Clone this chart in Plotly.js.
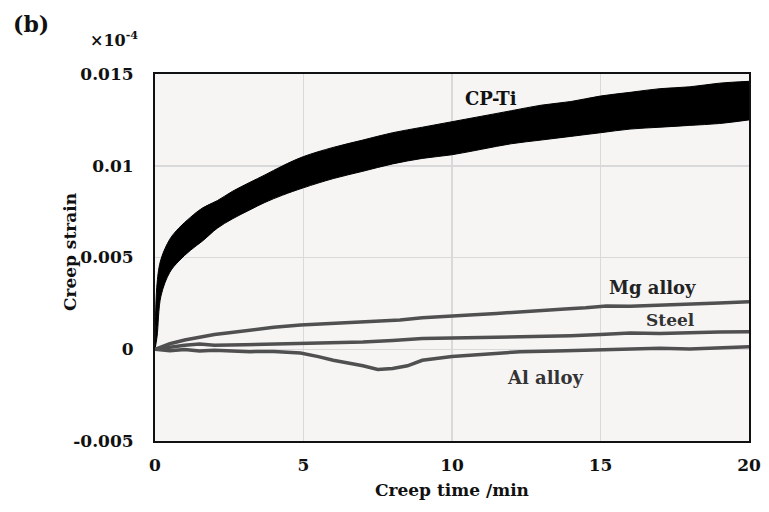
<!DOCTYPE html>
<html>
<head>
<meta charset="utf-8">
<script src="https://cdn.plot.ly/plotly-3.0.1.min.js"></script>
<style>
  html, body { margin: 0; padding: 0; background: #ffffff; }
  #chart { width: 769px; height: 512px; }
</style>
</head>
<body>
<div id="chart"></div>
<script>
// CP-Ti band (noisy signal drawn as a filled band between its lower and upper edges)
const tiTime  = [0, 0.07, 0.2, 0.5, 0.8, 1.2, 1.6, 2.1, 2.6, 3.2, 3.7, 4.3, 5, 6, 7, 8, 9, 10, 11, 12, 13, 14, 15, 16, 17, 18, 19, 20];
const tiUpper = [0, 0.0036, 0.0049, 0.0060, 0.0066, 0.0072, 0.0077, 0.0081, 0.0086, 0.0091, 0.0095, 0.0100, 0.0105, 0.0110, 0.0114, 0.0118, 0.0121, 0.0124, 0.0127, 0.0130, 0.0133, 0.0135, 0.0138, 0.0140, 0.0142, 0.0143, 0.0145, 0.0146];
const tiLower = [0, 0.0007, 0.0029, 0.0042, 0.0048, 0.0054, 0.0059, 0.0066, 0.0071, 0.0076, 0.0080, 0.0084, 0.0088, 0.0093, 0.0097, 0.0101, 0.0104, 0.0106, 0.0109, 0.0112, 0.0114, 0.0116, 0.0118, 0.0120, 0.0121, 0.0122, 0.0123, 0.0125];

const mgTime  = [0, 0.5, 1, 1.5, 2, 2.5, 3.2, 4, 4.9, 5.8, 6.6, 7.4, 8.25, 9, 9.8, 10.6, 11.5, 12.3, 13, 13.8, 14.5, 15.2, 16, 16.8, 17.4, 18.2, 19, 20];
const mgStrain= [0, 0.0003, 0.0005, 0.00067, 0.0008, 0.0009, 0.00105, 0.0012, 0.00132, 0.0014, 0.00145, 0.0015, 0.0016, 0.00172, 0.00181, 0.00186, 0.00195, 0.00205, 0.00214, 0.0022, 0.00226, 0.00236, 0.00234, 0.0024, 0.00241, 0.0025, 0.00252, 0.00259];

const stTime  = [0, 0.5, 1, 1.5, 2, 3, 4, 5, 6, 7, 8, 9, 10, 11, 12, 13, 14, 15, 16, 17, 18, 19, 20];
const stStrain= [0, 0.00012, 0.00022, 0.00028, 0.00022, 0.00024, 0.00028, 0.0003, 0.00036, 0.0004, 0.00048, 0.00058, 0.00061, 0.00064, 0.00067, 0.00068, 0.00074, 0.0008, 0.00088, 0.00086, 0.00092, 0.00094, 0.00096];

const alTime  = [0, 0.5, 1, 1.5, 2, 3.2, 4, 4.9, 5.5, 6, 6.5, 7, 7.5, 8, 8.5, 9, 10, 11, 12.3, 13.5, 14.5, 15.7, 17, 18, 19, 20];
const alStrain= [0, -0.00008, -0.00002, -0.0001, -0.00006, -0.00013, -0.00012, -0.0002, -0.0004, -0.0006, -0.00075, -0.0009, -0.0011, -0.00105, -0.0009, -0.0006, -0.0004, -0.00028, -0.00013, -0.0001, -0.00006, -0.00004, 0.00005, 0.00002, 0.0001, 0.00014];

const xTicks = [0, 5, 10, 15, 20];
const yTicks = [-0.005, 0, 0.005, 0.01, 0.015];
const yTickText = ['-0.005', '0', '0.005', '0.01', '0.015'];

const serif = 'DejaVu Serif, Liberation Serif, serif';
const lineGray = '#505050';

const traces = [
  { x: tiTime, y: tiLower, mode: 'lines', line: { color: '#000', width: 1, shape: 'spline' }, hoverinfo: 'skip', showlegend: false },
  { x: tiTime, y: tiUpper, mode: 'lines', fill: 'tonexty', fillcolor: '#000', line: { color: '#000', width: 1, shape: 'spline' }, name: 'CP-Ti', showlegend: false },
  { x: mgTime, y: mgStrain, mode: 'lines', line: { color: lineGray, width: 3.5 }, name: 'Mg alloy', showlegend: false },
  { x: stTime, y: stStrain, mode: 'lines', line: { color: lineGray, width: 3.5 }, name: 'Steel', showlegend: false },
  { x: alTime, y: alStrain, mode: 'lines', line: { color: lineGray, width: 3.5 }, name: 'Al alloy', showlegend: false }
];

const layout = {
  width: 769, height: 512,
  margin: { l: 155, r: 20, t: 74, b: 71 },
  paper_bgcolor: '#ffffff',
  plot_bgcolor: '#f6f5f4',
  font: { family: serif, color: '#111' },
  xaxis: {
    range: [0, 20], tickvals: xTicks, ticktext: xTicks.map(String),
    showgrid: true, gridcolor: '#d9d9d9', gridwidth: 1.5,
    zeroline: false, showline: true, linecolor: '#111', linewidth: 2, mirror: true,
    ticks: '', ticklabelstandoff: 8,
    tickfont: { family: serif, size: 17, color: '#111', weight: 'bold' },
    title: { text: '<b>Creep time /min</b>', font: { family: serif, size: 17, color: '#111' }, standoff: 10 }
  },
  yaxis: {
    range: [-0.005, 0.015], tickvals: yTicks, ticktext: yTickText,
    showgrid: true, gridcolor: '#d9d9d9', gridwidth: 1.5,
    zeroline: false, showline: true, linecolor: '#111', linewidth: 2, mirror: true,
    ticks: '', ticklabelstandoff: 16,
    tickfont: { family: serif, size: 17, color: '#111', weight: 'bold' }
  },
  annotations: [
    { xref: 'paper', yref: 'paper', x: -0.143, y: 0.515, xanchor: 'center', yanchor: 'middle', textangle: -90, text: '<b>Creep strain</b>', showarrow: false, font: { family: serif, size: 17, color: '#111' } },
    { xref: 'paper', yref: 'paper', x: -0.243, y: 1.178, xanchor: 'left', yanchor: 'top', text: '<b>(b)</b>', showarrow: false, font: { family: serif, size: 22, color: '#111' } },
    { xref: 'paper', yref: 'paper', x: -0.113, y: 1.06, xanchor: 'left', yanchor: 'bottom', text: '<b>×10<sup>-4</sup></b>', showarrow: false, font: { family: serif, size: 16, color: '#111' } },
    { x: 11.3, y: 0.01368, xref: 'x', yref: 'y', text: '<b>CP-Ti</b>', showarrow: false, font: { family: serif, size: 18, color: '#111' } },
    { x: 16.74, y: 0.00334, xref: 'x', yref: 'y', text: '<b>Mg alloy</b>', showarrow: false, font: { family: serif, size: 18, color: '#222' } },
    { x: 17.34, y: 0.00160, xref: 'x', yref: 'y', text: '<b>Steel</b>', showarrow: false, font: { family: serif, size: 17, color: '#333' } },
    { x: 13.13, y: -0.00156, xref: 'x', yref: 'y', text: '<b>Al alloy</b>', showarrow: false, font: { family: serif, size: 18, color: '#333' } }
  ]
};

Plotly.newPlot('chart', traces, layout, { staticPlot: true, displayModeBar: false });
</script>
</body>
</html>
